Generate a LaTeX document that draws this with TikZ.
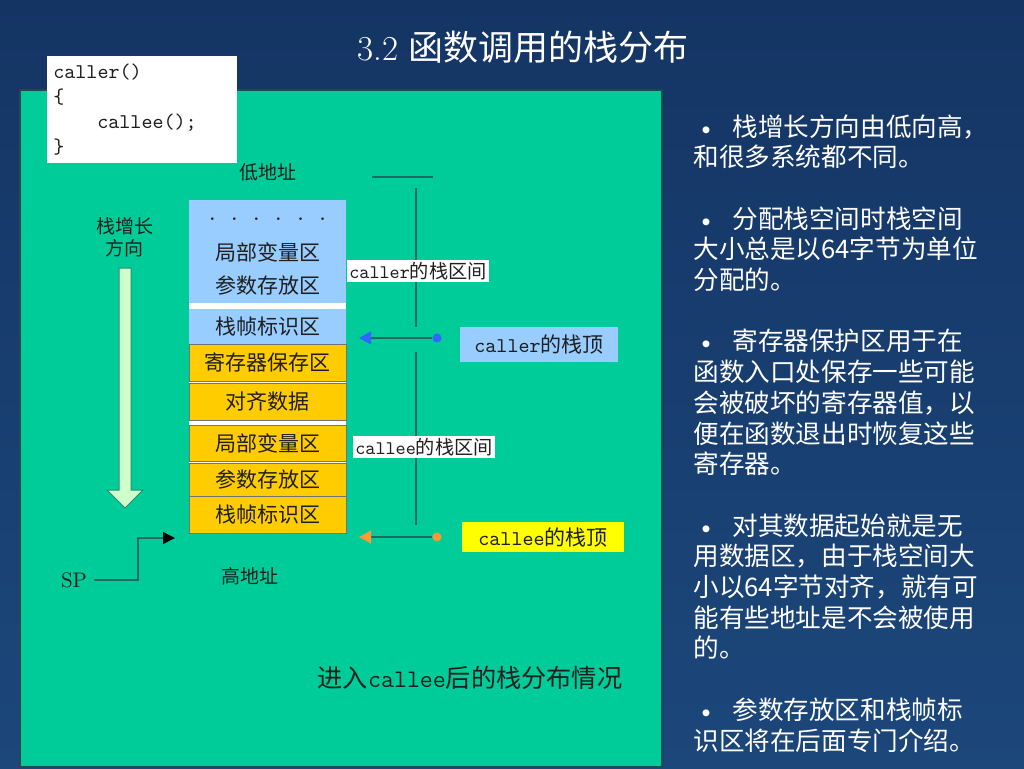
\documentclass[tikz,border=0pt]{standalone}
\usepackage{fontspec}
\newfontfamily\cjk{Noto Sans CJK SC}
\usetikzlibrary{arrows.meta}
\definecolor{bgtop}{HTML}{143564}
\definecolor{bgbottom}{HTML}{1C477B}
\definecolor{panelgreen}{HTML}{00CC99}
\definecolor{panelline}{HTML}{1B4D50}
\definecolor{frameblue}{HTML}{99CCFF}
\definecolor{framegold}{HTML}{FFCC00}
\definecolor{topyellow}{HTML}{FFFF00}
\definecolor{ptrblue}{HTML}{3366FF}
\definecolor{ptrorange}{HTML}{FF9933}
\definecolor{spanline}{HTML}{1D6A60}
\definecolor{growfill}{HTML}{CCFFCC}
\definecolor{growline}{HTML}{2E8B6A}
\definecolor{inkdark}{HTML}{1F1F1F}
\newcommand{\zh}[1]{{\cjk #1}}
\newcommand{\cd}[1]{{\ttfamily #1}}
\tikzset{
  slotblue/.style={rectangle,fill=frameblue,minimum width=78.5pt,inner sep=0pt,font=\fontsize{10.5}{12}\selectfont,text=inkdark},
  slotgold/.style={slotblue,fill=framegold,draw=black!55,line width=.4pt},
  tag/.style={fill=white,inner sep=1.2pt,font=\fontsize{9.6}{11}\selectfont,text=inkdark},
  topbox/.style={minimum width=79pt,inner sep=0pt,font=\fontsize{10.5}{12}\selectfont,text=inkdark},
  ptrdot/.style={circle,inner sep=0pt,minimum size=4.5pt},
  ptr/.style={draw=spanline,line width=.6pt},
  span/.style={draw=spanline,line width=.6pt},
  addr/.style={font=\cjk\fontsize{9.5}{11}\selectfont,text=inkdark,align=center},
  title/.style={font=\fontsize{17.5}{20}\selectfont,text=white},
  codebox/.style={fill=white,anchor=north west,align=left,text width=89pt,inner sep=3pt,font=\ttfamily\fontsize{10.5}{12.5}\selectfont,text=inkdark,minimum height=53.5pt},
  notes/.style={anchor=north west,align=left,inner sep=0pt,text=white,font=\cjk\fontsize{12.8}{15.35}\selectfont},
}
\newcommand{\itembul}{\makebox[19.5pt][l]{\hspace{1.5pt}{\rmfamily\textbullet}}}

\begin{document}
\begin{tikzpicture}[x=0.5pt,y=-0.5pt]
  \path[use as bounding box] (0,0) rectangle (1024,768);
  \shade[top color=bgtop,bottom color=bgbottom] (0,0) rectangle (1024,768);
  \draw[panelline,fill=panelgreen,line width=.6pt] (20,90) rectangle (662,767);
  \node[title] (head) at (523,47) {3.2 \zh{函数调用的栈分布}};
  \node[codebox] (code) at (47,56) {caller()\\\{\\\hspace*{22pt}callee();\\\}};
  % stack frames, top = low address
  \fill[white] (189,300) rectangle (346,470);
  \node[slotblue,minimum height=18.5pt] (dots) at (267.5,218.5) {\raisebox{-2pt}{\ttfamily .\ .\ .\ .\ .\ .}};
  \node[slotblue,minimum height=15pt] (loc1) at (267.5,252) {\zh{局部变量区}};
  \node[slotblue,minimum height=18pt] (arg1) at (267.5,285) {\zh{参数存放区}};
  \node[slotblue,minimum height=17.5pt] (frm1) at (267.5,326.5) {\zh{栈帧标识区}};
  \node[slotgold,minimum height=18.5pt] (reg) at (267.5,362.5) {\zh{寄存器保存区}};
  \node[slotgold,minimum height=18.5pt] (pad) at (267.5,401.5) {\zh{对齐数据}};
  \node[slotgold,minimum height=18pt] (loc2) at (267.5,443) {\zh{局部变量区}};
  \node[slotgold,minimum height=16.5pt] (arg2) at (267.5,479.5) {\zh{参数存放区}};
  \node[slotgold,minimum height=18.5pt] (frm2) at (267.5,514.5) {\zh{栈帧标识区}};
  \node[addr] (low) at (268,172) {低地址};
  \node[addr] (high) at (250,576) {高地址};
  \node[addr] (grow) at (125,237) {栈增长\\方向};
  \draw[fill=growfill,draw=growline,line width=.5pt]
    (119,268) -- (131,268) -- (131,490) -- (143,490) -- (125,508) -- (107,490) -- (119,490) -- cycle;
  % SP
  \node[text=inkdark,font=\fontsize{10.5}{12}\selectfont] (sp) at (74,580) {SP};
  \coordinate (sptip) at (175,538);
  \draw[ptr,-{Triangle[color=black,length=6pt,width=6pt]}] (sp.east) -- ++(44,0) |- (sptip);
  % spans
  \coordinate (spanL) at (372,177);
  \coordinate (spanR) at (433,177);
  \coordinate (upA) at (416,188);
  \coordinate (upB) at (416,327);
  \coordinate (dnA) at (416,352);
  \coordinate (dnB) at (416,525);
  \draw[span] (spanL) -- (spanR);
  \draw[span] (upA) -- (upB);
  \draw[span] (dnA) -- (dnB);
  \node[tag] (callerspan) at (418,271) {\cd{caller}\zh{的栈区间}};
  \node[tag] (calleespan) at (424,447) {\cd{callee}\zh{的栈区间}};
  % stack tops
  \node[ptrdot,fill=ptrblue] (callerdot) at (437,338) {};
  \coordinate (callertip) at (352,338);
  \draw[ptr,-{Triangle[color=ptrblue,length=6pt,width=6.5pt,sep=3.5pt]}] (callerdot) -- (callertip);
  \node[topbox,fill=frameblue,minimum height=17.5pt] (callertop) at (539,344.5) {\cd{caller}\zh{的栈顶}};
  \node[ptrdot,fill=ptrorange] (calleedot) at (437,537) {};
  \coordinate (calleetip) at (352,537);
  \draw[ptr,-{Triangle[color=ptrorange,length=6pt,width=6.5pt,sep=3.5pt]}] (calleedot) -- (calleetip);
  \node[topbox,fill=topyellow,minimum width=81pt,minimum height=15pt] (calleetop) at (543,537) {\cd{callee}\zh{的栈顶}};
  \node[text=inkdark,font=\fontsize{12.6}{14}\selectfont] (caption) at (470,678) {\zh{进入}\cd{callee}\zh{后的栈分布情况}};
  % notes
  \node[notes] (notes) at (693,114) {%
    \itembul 栈增长方向由低向高，\\和很多系统都不同。\\[15.35pt]
    \itembul 分配栈空间时栈空间\\大小总是以64字节为单位\\分配的。\\[15.35pt]
    \itembul 寄存器保护区用于在\\函数入口处保存一些可能\\会被破坏的寄存器值，以\\便在函数退出时恢复这些\\寄存器。\\[15.35pt]
    \itembul 对其数据起始就是无\\用数据区，由于栈空间大\\小以64字节对齐，就有可\\能有些地址是不会被使用\\的。\\[15.35pt]
    \itembul 参数存放区和栈帧标\\识区将在后面专门介绍。};
\end{tikzpicture}
\end{document}
